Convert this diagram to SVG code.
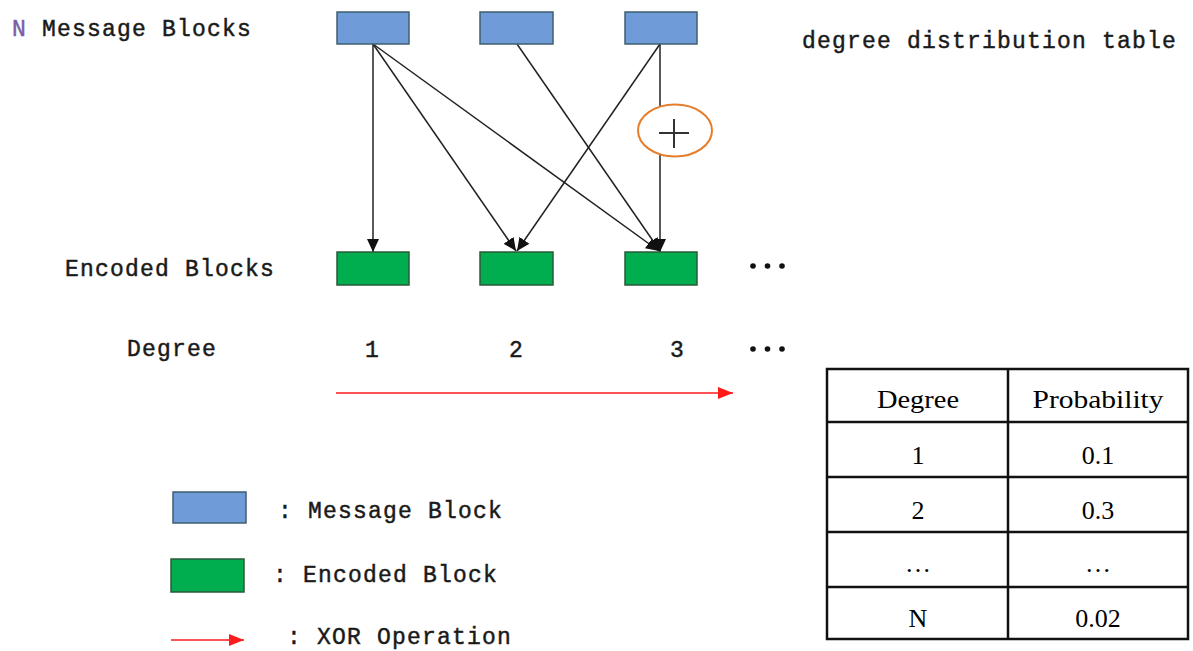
<svg xmlns="http://www.w3.org/2000/svg" width="1193" height="651" viewBox="0 0 1193 651">
<style>
.mono{font-family:"Liberation Mono","DejaVu Sans Mono",monospace;font-size:23px;letter-spacing:1.2px;fill:#1a1a1a;stroke:#1a1a1a;stroke-width:0.45}
.serif{font-family:"Liberation Serif","Times New Roman",serif;font-size:26px;fill:#000;text-anchor:middle}
.msg{fill:#6F9BD8;stroke:#3E5F6E;stroke-width:1.5}
.enc{fill:#00AD4F;stroke:#2A5A3A;stroke-width:1.5}
.edge{stroke:#222;stroke-width:1.5;fill:none;marker-end:url(#ah)}
.red{stroke:#FF1A1A;stroke-width:1.5;fill:none;marker-end:url(#rh)}
.grid{stroke:#111;stroke-width:2.5;fill:none}
</style>
<defs>
<marker id="ah" viewBox="0 0 13 12" refX="13" refY="6" markerWidth="13" markerHeight="12" markerUnits="userSpaceOnUse" orient="auto">
<path d="M0,0 L13,6 L0,12 Z" fill="#111"/>
</marker>
<marker id="rh" viewBox="0 0 15 12" refX="15" refY="6" markerWidth="15" markerHeight="12" markerUnits="userSpaceOnUse" orient="auto">
<path d="M0,0 L15,6 L0,12 Z" fill="#FF1A1A"/>
</marker>
</defs>
<rect width="1193" height="651" fill="#fff"/>

<g id="labels">
<text class="mono" x="12" y="36"><tspan fill="#7B5EA7" stroke="#7B5EA7">N</tspan> Message Blocks</text>
<text class="mono" x="802" y="48">degree distribution table</text>
<text class="mono" x="65" y="276">Encoded Blocks</text>
<text class="mono" x="127" y="356">Degree</text>
<text class="mono" x="365" y="357">1</text>
<text class="mono" x="509" y="357">2</text>
<text class="mono" x="670" y="357">3</text>
</g>

<g id="connectors">
<line class="edge" x1="373" y1="44" x2="373" y2="252"/>
<line class="edge" x1="373" y1="44" x2="516" y2="251"/>
<line class="edge" x1="373" y1="44" x2="659" y2="251"/>
<line class="edge" x1="517" y1="44" x2="660" y2="251"/>
<line class="edge" x1="660" y1="44" x2="517" y2="251"/>
<line class="edge" x1="660" y1="44" x2="660" y2="252"/>
<line class="red" x1="336" y1="393" x2="733" y2="393"/>
</g>

<g id="xor">
<ellipse cx="675" cy="130.5" rx="37" ry="26" fill="#fff" stroke="#E57D2A" stroke-width="2"/>
<path d="M659,133 H689 M674,119 V148" stroke="#333" stroke-width="2"/>
</g>

<g id="msg1"><rect class="msg" x="337" y="12" width="72" height="32"/></g>
<g id="msg2"><rect class="msg" x="480" y="12" width="73" height="32"/></g>
<g id="msg3"><rect class="msg" x="625" y="12" width="72" height="32"/></g>
<g id="enc1"><rect class="enc" x="337" y="252" width="72" height="33"/></g>
<g id="enc2"><rect class="enc" x="480" y="252" width="73" height="33"/></g>
<g id="enc3"><rect class="enc" x="625" y="252" width="72" height="33"/></g>

<g id="dots" fill="#111">
<circle cx="753" cy="266" r="2.8"/><circle cx="767.5" cy="266" r="2.8"/><circle cx="782" cy="266" r="2.8"/>
<circle cx="753" cy="349" r="2.8"/><circle cx="767.5" cy="349" r="2.8"/><circle cx="782" cy="349" r="2.8"/>
</g>

<g id="legend">
<rect class="msg" x="173" y="492" width="73" height="31"/>
<text class="mono" x="278" y="518">: Message Block</text>
<rect class="enc" x="171" y="559" width="73" height="33"/>
<text class="mono" x="273" y="582">: Encoded Block</text>
<line class="red" x1="171" y1="640" x2="244" y2="640"/>
<text class="mono" x="287" y="644">: XOR Operation</text>
</g>

<g id="table">
<rect class="grid" x="827" y="369" width="361" height="270"/>
<line class="grid" x1="1008" y1="369" x2="1008" y2="639"/>
<line class="grid" x1="827" y1="422" x2="1188" y2="422"/>
<line class="grid" x1="827" y1="477" x2="1188" y2="477"/>
<line class="grid" x1="827" y1="532" x2="1188" y2="532"/>
<line class="grid" x1="827" y1="587" x2="1188" y2="587"/>
<text class="serif" x="918" y="408" textLength="82" lengthAdjust="spacingAndGlyphs">Degree</text>
<text class="serif" x="1098" y="408" textLength="131" lengthAdjust="spacingAndGlyphs">Probability</text>
<text class="serif" x="918" y="464">1</text>
<text class="serif" x="1098" y="464">0.1</text>
<text class="serif" x="918" y="519">2</text>
<text class="serif" x="1098" y="519">0.3</text>
<text class="serif" x="918" y="572" fill="#888">…</text>
<text class="serif" x="1098" y="572" fill="#888">…</text>
<text class="serif" x="918" y="627">N</text>
<text class="serif" x="1098" y="627">0.02</text>
</g>
</svg>
